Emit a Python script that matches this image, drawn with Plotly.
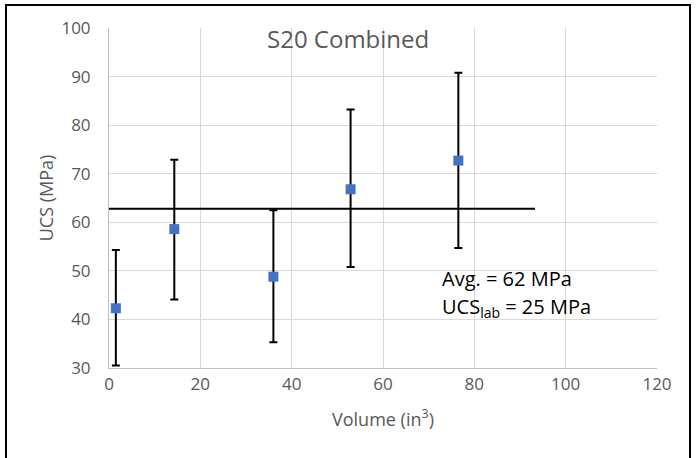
import plotly.graph_objects as go

# Data
volume = [1.5, 14.3, 36.0, 52.9, 76.5]
ucs = [42.3, 58.6, 48.8, 66.8, 72.7]
ucs_high = [54.3, 72.9, 62.5, 83.2, 90.8]
ucs_low = [30.5, 44.1, 35.3, 50.8, 54.7]
avg_x = [0, 93.3]
avg_y = [62.8, 62.8]
x_ticks = [0, 20, 40, 60, 80, 100, 120]
y_ticks = [30, 40, 50, 60, 70, 80, 90, 100]

err_plus = [h - v for h, v in zip(ucs_high, ucs)]
err_minus = [v - l for v, l in zip(ucs, ucs_low)]

W, H = 697, 458
L, R, T, B = 109, 40, 28, 90
PW, PH = W - L - R, H - T - B

def px(x):
    return (x - L) / PW

def py(y):
    return (H - B - y) / PH

FONT = "Open Sans"
GREY = "#595959"

fig = go.Figure()
fig.add_trace(go.Scatter(
    x=avg_x, y=avg_y, mode="lines",
    line=dict(color="black", width=2), showlegend=False, hoverinfo="skip"))
fig.add_trace(go.Scatter(
    x=volume, y=ucs, mode="markers",
    marker=dict(symbol="square", size=10, color="#4472C4"),
    error_y=dict(type="data", symmetric=False, array=err_plus, arrayminus=err_minus,
                 color="black", thickness=2, width=4),
    showlegend=False))

fig.update_layout(
    width=W, height=H,
    margin=dict(l=L, r=R, t=T, b=B),
    paper_bgcolor="white", plot_bgcolor="white",
    font=dict(family=FONT, color=GREY, size=16),
    xaxis=dict(range=[0, 120], tickvals=x_ticks, showgrid=True, gridcolor="#d9d9d9",
               gridwidth=1, showline=True, linecolor="#bfbfbf", linewidth=1,
               zeroline=False, ticks="", ticklabelstandoff=1, tickfont=dict(size=17, color=GREY),
               title=dict(text="Volume (in<sup>3</sup>)", font=dict(size=18, color=GREY), standoff=18)),
    yaxis=dict(range=[30, 100], tickvals=y_ticks, showgrid=True, gridcolor="#d9d9d9",
               gridwidth=1, showline=True, linecolor="#bfbfbf", linewidth=1,
               zeroline=False, ticks="", ticklabelstandoff=14, tickfont=dict(size=17, color=GREY),
               title=dict(text="UCS (MPa)", font=dict(size=18, color=GREY), standoff=3)),
    shapes=[
        dict(type="rect", xref="x", yref="y", x0=69.6, x1=110.1, y0=37.8, y1=53.7,
             fillcolor="white", line=dict(width=0), layer="below"),
        dict(type="rect", xref="paper", yref="paper", x0=px(6), x1=px(690), y0=py(470), y1=py(5),
             line=dict(color="black", width=2), fillcolor="rgba(0,0,0,0)", layer="above"),
    ],
    annotations=[
        dict(text="S20 Combined", xref="paper", yref="paper", x=px(348), y=py(38),
             xanchor="center", yanchor="middle", showarrow=False,
             font=dict(size=24, color=GREY, family=FONT)),
        dict(text="Avg. = 62 MPa", xref="paper", yref="paper", x=px(440), y=py(278),
             xanchor="left", yanchor="middle", showarrow=False,
             font=dict(size=20, color="black", family=FONT)),
        dict(text="UCS<sub>lab</sub> = 25 MPa", xref="paper", yref="paper", x=px(440), y=py(307),
             xanchor="left", yanchor="middle", showarrow=False,
             font=dict(size=20, color="black", family=FONT)),
    ],
)

fig.write_html("out.html")
